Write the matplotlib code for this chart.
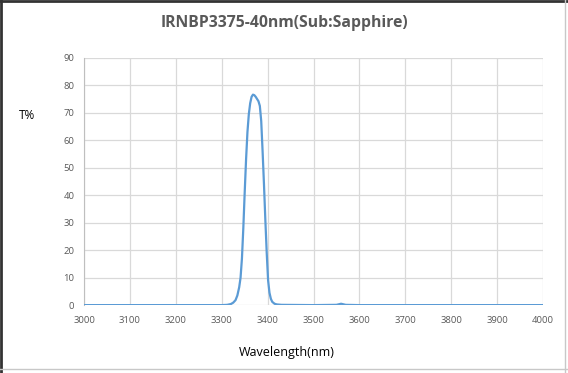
import matplotlib
matplotlib.use('Agg')
import matplotlib.pyplot as plt
from matplotlib.lines import Line2D

# transmission curve
wavelength = [3000, 3100, 3200, 3300, 3312, 3320, 3325, 3330, 3334, 3338, 3341, 3344,
              3347, 3350, 3353, 3356, 3359, 3362, 3365, 3368, 3371, 3374, 3377, 3380,
              3383, 3386, 3389, 3392, 3395, 3398, 3401, 3404, 3407, 3410, 3415, 3420,
              3430, 3500, 3550, 3560, 3570, 3600, 3700, 3800, 3900, 4000]
transmission = [0, 0, 0, 0, 0.1, 0.4, 0.9, 1.8, 3.5, 6.5, 10, 17,
                28, 41, 53, 63, 69.5, 73.5, 75.8, 76.6, 76.4, 75.8, 75, 74.2,
                72.5, 67, 56, 44, 31, 19, 9, 4.5, 2.3, 1.2, 0.5, 0.25,
                0.1, 0, 0.1, 0.5, 0.1, 0, 0, 0, 0, 0]

x_ticks = [3000, 3100, 3200, 3300, 3400, 3500, 3600, 3700, 3800, 3900, 4000]
y_ticks = [0, 10, 20, 30, 40, 50, 60, 70, 80, 90]

plt.rcParams['font.family'] = ['Open Sans', 'DejaVu Sans']

fig = plt.figure(figsize=(5.68, 3.73), dpi=100)
ax = fig.add_axes([0.148, 0.182, 0.808, 0.663])

ax.plot(wavelength, transmission, color='#5b9bd5', linewidth=1.6, zorder=3)

ax.set_xlim(3000, 4000)
ax.set_ylim(0, 90)
ax.set_xticks(x_ticks)
ax.set_yticks(y_ticks)
ax.grid(True, color='#d9d9d9', linewidth=0.9)
ax.set_axisbelow(True)
ax.tick_params(length=0, labelsize=6.8, labelcolor='#595959')
ax.tick_params(axis='x', pad=8)
ax.tick_params(axis='y', pad=7)
for s in ['top', 'right', 'bottom']:
    ax.spines[s].set_visible(False)
ax.spines['left'].set_color('#bfbfbf')
ax.spines['left'].set_linewidth(0.8)

fig.text(0.5, 0.938, 'IRNBP3375-40nm(Sub:Sapphire)', ha='center', va='center',
         fontsize=11.3, fontweight='bold', color='#595959')
fig.text(0.048, 0.69, 'T%', ha='center', va='center', fontsize=8.5, color='black')
fig.text(0.505, 0.055, 'Wavelength(nm)', ha='center', va='center', fontsize=9, color='black')

# outer frame of the picture
fig.add_artist(Line2D([0.002, 0.002], [0, 1], transform=fig.transFigure, color='#333333', linewidth=2))
fig.add_artist(Line2D([0, 1], [0.997, 0.997], transform=fig.transFigure, color='#333333', linewidth=2))
fig.add_artist(Line2D([0.995, 0.995], [0, 1], transform=fig.transFigure, color='#c8c8c8', linewidth=1))
fig.add_artist(Line2D([0, 1], [0.01, 0.01], transform=fig.transFigure, color='#c8c8c8', linewidth=1))

fig.savefig('out.png', dpi=100)
